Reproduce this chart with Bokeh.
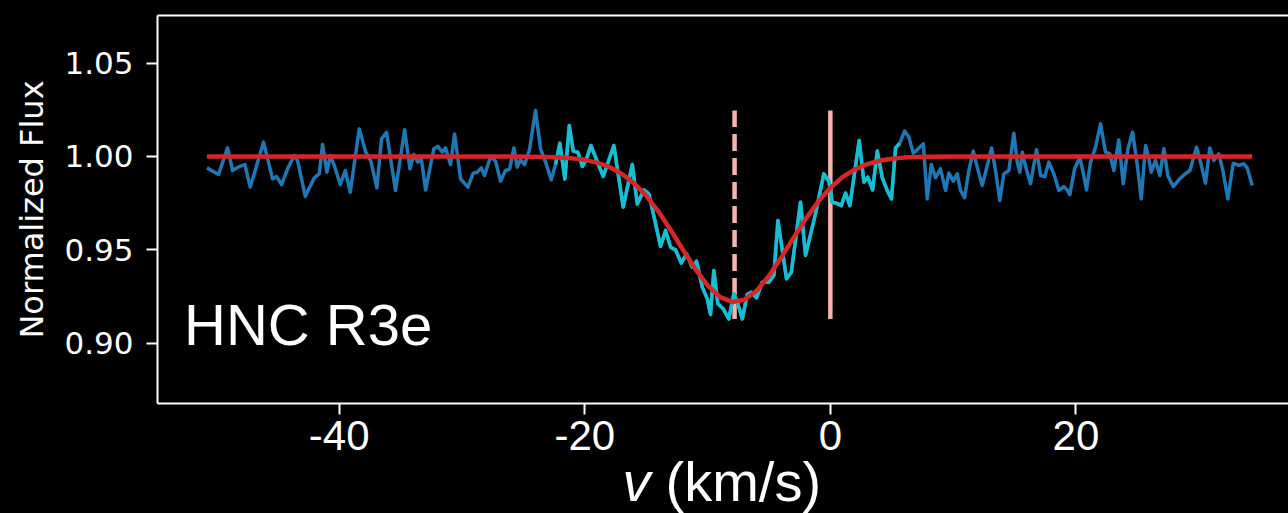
from bokeh.plotting import figure
from bokeh.models import (LinearAxis, FixedTicker, PrintfTickFormatter, Range1d,
                          InlineStyleSheet)
from bokeh.core.properties import value
from bokeh.embed import file_html
from bokeh.resources import INLINE

# Observed HNC spectrum: velocity (km/s) and normalized flux
velocity = [
    -50.77, -49.82, -49.09, -48.68, -48.14, -47.68, -47.24, -46.16, -45.42, -45.10,
    -44.69, -44.20, -43.66, -43.39, -42.76, -42.03, -41.62, -41.35, -41.00, -40.72,
    -40.40, -39.91, -39.50, -39.10, -38.36, -37.83, -37.42, -36.93, -36.55, -36.14,
    -35.41, -34.67, -34.24, -33.92, -33.59, -33.31, -32.96, -32.29, -31.96, -31.60,
    -31.34, -30.93, -30.60, -30.11, -29.52, -29.08, -28.75, -28.43, -28.16, -27.67,
    -27.26, -26.86, -26.45, -26.12, -25.77, -25.50, -25.23, -24.90, -24.50, -24.01,
    -23.60, -23.19, -22.73, -22.38, -22.03, -21.62, -21.26, -20.94, -20.56, -20.20,
    -19.85, -19.50, -18.50, -17.63, -16.87, -16.13, -15.72, -15.19, -14.78, -14.32,
    -13.83, -13.42, -13.01, -12.61, -12.14, -11.71, -11.25, -10.90, -10.43, -10.02,
    -9.76, -9.49, -9.16, -8.72, -8.27, -7.86, -7.53, -7.17, -6.77, -6.44,
    -6.01, -5.55, -5.01, -4.60, -4.27, -3.57, -3.18, -2.43, -2.02, -1.21,
    -0.53, -0.12, 0.15, 0.50, 0.89, 1.24, 1.59, 2.35, 2.73, 3.05,
    3.44, 3.82, 4.23, 4.63, 4.98, 5.31, 5.66, 6.04, 6.39, 6.75,
    7.08, 7.57, 7.89, 8.22, 8.57, 8.97, 9.38, 9.65, 10.01, 10.33,
    10.60, 10.93, 11.28, 11.64, 11.96, 12.37, 12.78, 13.13, 13.45, 13.80,
    14.13, 14.54, 14.94, 15.22, 15.43, 15.63, 15.90, 16.30, 16.79, 17.12,
    17.47, 17.79, 18.20, 18.61, 19.01, 19.29, 19.50, 19.89, 20.32, 20.64,
    20.86, 21.19, 21.60, 22.00, 22.41, 22.76, 23.09, 23.49, 23.85, 24.23,
    24.61, 24.99, 25.32, 25.67, 25.94, 26.13, 26.48, 26.83, 27.16, 27.48,
    27.92, 28.38, 28.84, 29.28, 29.82, 30.15, 30.55, 30.90, 31.23, 31.64,
    31.99, 32.37, 32.81, 33.27, 33.67, 33.95, 34.36,
]
flux = [
    0.9939, 0.9904, 1.0046, 0.9925, 0.9946, 0.9957, 0.9836, 1.0077, 0.9880, 0.9893,
    0.9850, 0.9934, 1.0005, 0.9979, 0.9786, 0.9886, 0.9907, 1.0064, 0.9916, 1.0005,
    0.9952, 0.9850, 0.9925, 0.9809, 1.0148, 1.0023, 0.9975, 0.9832, 1.0095, 1.0129,
    0.9818, 1.0143, 0.9934, 1.0011, 0.9970, 0.9988, 0.9821, 1.0041, 1.0054, 1.0023,
    1.0046, 0.9957, 1.0121, 0.9880, 0.9836, 0.9911, 0.9916, 0.9939, 0.9898, 1.0000,
    0.9975, 0.9868, 0.9925, 0.9932, 1.0046, 0.9943, 0.9982, 0.9957, 1.0036, 1.0246,
    1.0041, 0.9970, 0.9875, 0.9957, 1.0071, 0.9880, 1.0166, 1.0029, 1.0023, 0.9946,
    0.9988, 1.0059, 0.9893, 1.0059, 0.9729, 0.9957, 0.9746, 0.9821, 0.9800, 0.9666,
    0.9518, 0.9604, 0.9514, 0.9500, 0.9429, 0.9479, 0.9407, 0.9439, 0.9300, 0.9237,
    0.9154, 0.9389, 0.9211, 0.9184, 0.9130, 0.9264, 0.9211, 0.9130, 0.9261, 0.9273,
    0.9243, 0.9327, 0.9327, 0.9363, 0.9657, 0.9345, 0.9380, 0.9755, 0.9470, 0.9693,
    0.9907, 0.9868, 0.9755, 0.9750, 0.9737, 0.9804, 0.9737, 1.0086, 0.9863, 0.9889,
    0.9821, 1.0029, 0.9886, 0.9818, 0.9773, 1.0046, 1.0071, 1.0136, 1.0104, 1.0018,
    1.0036, 1.0068, 0.9773, 0.9957, 0.9886, 0.9934, 0.9818, 0.9911, 0.9868, 0.9907,
    0.9818, 0.9779, 0.9925, 1.0029, 0.9943, 0.9845, 0.9952, 1.0046, 0.9925, 0.9764,
    0.9907, 0.9925, 1.0125, 0.9970, 0.9916, 1.0023, 0.9946, 0.9854, 1.0036, 0.9898,
    0.9893, 0.9970, 0.9907, 0.9818, 0.9839, 0.9821, 0.9796, 0.9934, 0.9996, 0.9898,
    0.9821, 0.9970, 1.0050, 1.0175, 1.0023, 1.0014, 0.9925, 1.0088, 0.9854, 1.0041,
    1.0130, 0.9957, 0.9773, 1.0059, 0.9988, 0.9916, 0.9979, 0.9898, 1.0041, 0.9898,
    0.9839, 0.9875, 0.9904, 0.9925, 1.0050, 0.9970, 0.9857, 1.0046, 0.9979, 1.0014,
    0.9916, 0.9773, 0.9964, 0.9952, 0.9961, 0.9939, 0.9845,
]

# Velocity window used for the line fit
fit_window = (-22.4, 5.7)

# Best-fit absorption profile
fit_velocity = [-50.77, -26.0, -24.0, -22.0, -21.0, -20.0, -19.0, -18.0, -17.0, -16.0,
                -15.0, -14.0, -13.0, -12.0, -11.0, -10.0, -9.0, -8.0, -7.0, -6.0,
                -5.0, -4.0, -3.0, -2.0, -1.0, 0.0, 1.0, 2.0, 3.0, 4.0,
                5.0, 6.0, 7.0, 8.0, 10.0, 34.36]
fit_flux = [1.0000, 1.0000, 0.9999, 0.9995, 0.9990, 0.9982, 0.9967, 0.9944, 0.9908, 0.9857,
            0.9790, 0.9705, 0.9606, 0.9500, 0.9398, 0.9310, 0.9248, 0.9221, 0.9233, 0.9281,
            0.9360, 0.9459, 0.9564, 0.9666, 0.9757, 0.9832, 0.9890, 0.9931, 0.9959, 0.9977,
            0.9988, 0.9994, 0.9997, 0.9999, 1.0000, 1.0000]

# Reference velocities: fitted line centre (dashed) and rest velocity (solid)
marker_velocity = [-7.8, 0.0]
marker_dash = ["17 7", "solid"]
marker_span = [min(flux), max(flux)]

x_ticks = [-40, -20, 0, 20]
y_ticks = [0.90, 0.95, 1.00, 1.05]

# axes box (data units) and the full canvas extent around it
AX_X = (-54.79, 37.31)
AX_Y = (0.8677, 1.0755)
CANVAS_X = (-67.58, 37.31)
CANVAS_Y = (0.80875, 1.08357)

BLUE = "#1f77b4"
CYAN = "#17becf"
RED = "#d62728"
PINK = "#f5b4ae"

# The frame spans the whole canvas; spines are axes pinned to the box edges.
p = figure(width=1288, height=513,
           x_range=Range1d(*CANVAS_X), y_range=Range1d(*CANVAS_Y),
           output_backend="svg", toolbar_location=None,
           min_border_left=0, min_border_right=0,
           min_border_top=0, min_border_bottom=0)
p.background_fill_color = "black"
p.border_fill_color = "black"
p.outline_line_color = None
p.grid.visible = False
p.styles = {"background-color": "black"}
p.stylesheets = [InlineStyleSheet(css=":host { background-color: #000; border: none; outline: none; }")]

# reference velocity markers, drawn upward from the lower end
for vx, dash in zip(marker_velocity, marker_dash):
    p.line([vx, vx], marker_span, line_color=PINK, line_width=4.5, line_dash=dash)

# full spectrum
p.line(velocity, flux, line_color=BLUE, line_width=3.5, line_join="round")

# fitted region highlighted
win_v = [v for v in velocity if fit_window[0] <= v <= fit_window[1]]
win_f = [f for v, f in zip(velocity, flux) if fit_window[0] <= v <= fit_window[1]]
p.line(win_v, win_f, line_color=CYAN, line_width=3.5, line_join="round")

# model profile
p.line(fit_velocity, fit_flux, line_color=RED, line_width=4.5, line_join="round")

# axes
xax = p.xaxis[0]
yax = p.yaxis[0]
xax.fixed_location = AX_Y[0]
xax.bounds = AX_X
yax.fixed_location = AX_X[0]
yax.bounds = AX_Y
for ax in (xax, yax):
    ax.axis_line_color = "white"
    ax.axis_line_width = 2
    ax.major_tick_line_color = "white"
    ax.major_tick_line_width = 2
    ax.major_tick_out = 11
    ax.major_tick_in = 0
    ax.minor_tick_line_color = None
    ax.major_label_text_color = "white"

xax.ticker = FixedTicker(ticks=x_ticks)
xax.major_label_overrides = {t: str(t) for t in x_ticks}
xax.major_label_text_font = "Liberation Sans"
xax.major_label_text_font_size = "42px"
xax.major_label_standoff = 7

yax.ticker = FixedTicker(ticks=y_ticks)
yax.formatter = PrintfTickFormatter(format="%.2f")
yax.major_label_text_font = "DejaVu Sans"
yax.major_label_text_font_size = "31px"
yax.major_label_standoff = 13
yax.axis_label = "Normalized Flux"
yax.axis_label_text_font = "DejaVu Sans"
yax.axis_label_text_font_size = "32px"
yax.axis_label_text_font_style = "normal"
yax.axis_label_text_color = "white"
yax.axis_label_standoff = 10

# top spine
top = LinearAxis(ticker=FixedTicker(ticks=[]), fixed_location=AX_Y[1], bounds=AX_X,
                 axis_line_color="white", axis_line_width=2,
                 major_tick_line_color=None, minor_tick_line_color=None,
                 major_label_text_font_size="0px")
p.add_layout(top, "above")

# species / transition tag
p.text(x=[-52.63], y=[0.9100], text=["HNC R3e"], text_color="white",
       text_font=value("Liberation Sans"), text_font_size="58px",
       text_baseline="alphabetic", text_align="left")

# x-axis title: italic v followed by units
p.text(x=[-16.92], y=[0.8259], text=["v"], text_color="white",
       text_font=value("Liberation Sans"), text_font_size="56px",
       text_font_style="italic", text_baseline="alphabetic", text_align="left")
p.text(x=[-13.42], y=[0.8259], text=["(km/s)"], text_color="white",
       text_font=value("Liberation Sans"), text_font_size="56px",
       text_baseline="alphabetic", text_align="left")

html = file_html(p, INLINE)
html = html.replace("<body>", '<body style="margin:0;background:#000">', 1)
open("out.html", "w").write(html)
